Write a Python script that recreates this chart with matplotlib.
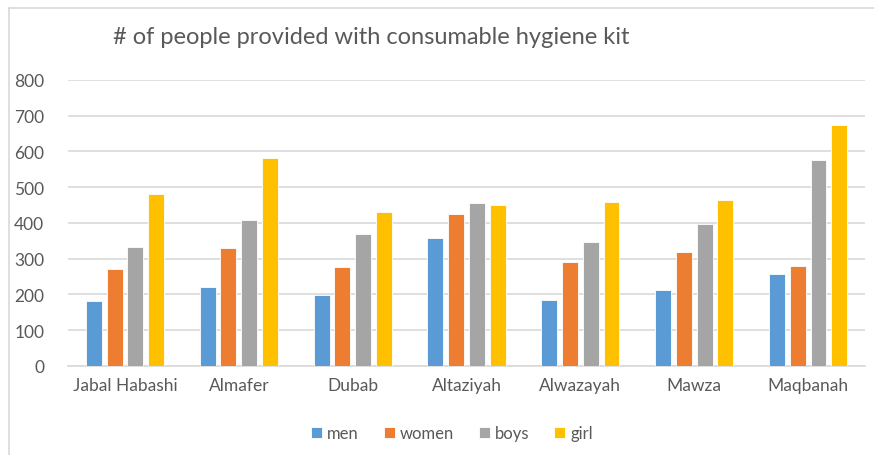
import matplotlib.pyplot as plt
import numpy as np
from matplotlib.lines import Line2D

districts = ["Jabal Habashi", "Almafer", "Dubab", "Altaziyah", "Alwazayah", "Mawza", "Maqbanah"]
men = [182, 220, 199, 358, 185, 213, 256]
women = [270, 330, 277, 425, 291, 320, 281]
boys = [333, 408, 370, 455, 348, 398, 575]
girl = [480, 582, 430, 451, 458, 465, 674]

series = [("men", men, "#5B9BD5"), ("women", women, "#ED7D31"),
          ("boys", boys, "#A5A5A5"), ("girl", girl, "#FFC000")]

plt.rcParams['font.family'] = ['Lato', 'DejaVu Sans']

fig = plt.figure(figsize=(8.74, 4.56), dpi=100)
ax = fig.add_axes([0.0778, 0.1952, 0.912, 0.6272])

x = np.arange(len(districts))
pitch = 0.182
width = 0.14
for i, (name, vals, col) in enumerate(series):
    ax.bar(x + (i - 1.5) * pitch, vals, width, color=col, label=name,
           edgecolor="white", linewidth=0.6, zorder=3)

ax.set_xlim(-0.5, len(districts) - 0.5)
ax.set_ylim(0, 800)
ax.set_yticks(range(0, 801, 100))
ax.set_xticks(x)
ax.set_xticklabels(districts)
ax.yaxis.grid(True, color="#D9D9D9", linewidth=1.2, zorder=0)
ax.tick_params(length=0, labelsize=12.5, colors="#595959", pad=8)
ax.tick_params(axis="y", pad=17)
for s in ["top", "right", "left"]:
    ax.spines[s].set_visible(False)
ax.spines["bottom"].set_color("#D9D9D9")
ax.spines["bottom"].set_linewidth(1.2)

fig.text(113 / 874, 1 - 37 / 456, "# of people provided with consumable hygiene kit",
         fontsize=17, color="#595959", va="center", ha="left")

ax.legend(loc="center", bbox_to_anchor=(452 / 874, 1 - 434 / 456),
          bbox_transform=fig.transFigure, ncol=4, frameon=False,
          fontsize=12, labelcolor="#595959", handlelength=0.65, handleheight=0.65,
          handletextpad=0.3, columnspacing=1.5)

# chart frame (left and top edges)
fig.add_artist(Line2D([9 / 874, 9 / 874], [0, 1 - 8.5 / 456], transform=fig.transFigure,
                      color="#D9D9D9", linewidth=1.2))
fig.add_artist(Line2D([9 / 874, 1], [1 - 8.5 / 456, 1 - 8.5 / 456], transform=fig.transFigure,
                      color="#D9D9D9", linewidth=1.2))

fig.savefig("out.png", dpi=100)
